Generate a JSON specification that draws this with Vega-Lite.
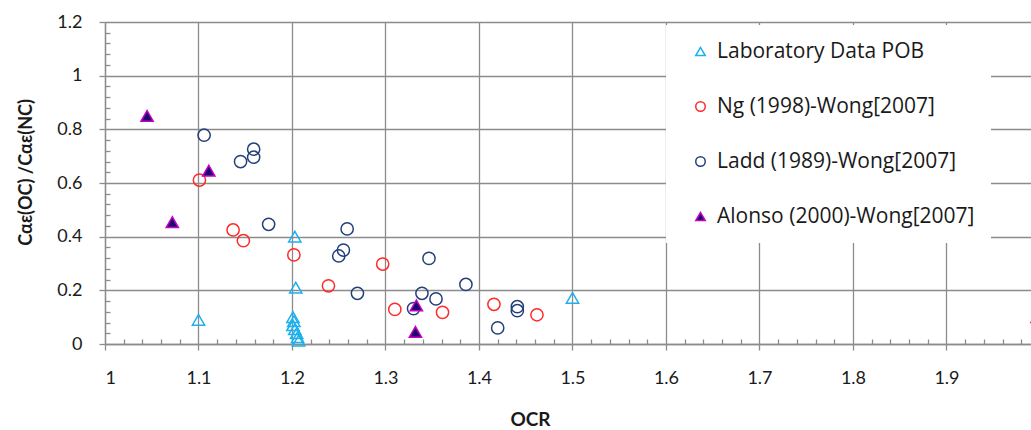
{
  "$schema": "https://vega.github.io/schema/vega-lite/v6.json",
  "width": 926,
  "height": 322,
  "autosize": {"type": "none"},
  "padding": {"left": 105, "top": 22, "right": 0, "bottom": 86},
  "background": "white",
  "config": {"view": {"stroke": null}, "font": "Lato"},
  "data": {
    "values": [
      {"series": "Laboratory Data POB", "OCR": 1.1, "ratio": 0.09},
      {"series": "Laboratory Data POB", "OCR": 1.203, "ratio": 0.4},
      {"series": "Laboratory Data POB", "OCR": 1.204, "ratio": 0.21},
      {"series": "Laboratory Data POB", "OCR": 1.201, "ratio": 0.1},
      {"series": "Laboratory Data POB", "OCR": 1.202, "ratio": 0.085},
      {"series": "Laboratory Data POB", "OCR": 1.201, "ratio": 0.07},
      {"series": "Laboratory Data POB", "OCR": 1.203, "ratio": 0.055},
      {"series": "Laboratory Data POB", "OCR": 1.205, "ratio": 0.04},
      {"series": "Laboratory Data POB", "OCR": 1.206, "ratio": 0.025},
      {"series": "Laboratory Data POB", "OCR": 1.207, "ratio": 0.012},
      {"series": "Laboratory Data POB", "OCR": 1.5, "ratio": 0.172},
      {"series": "Ng (1998)-Wong[2007]", "OCR": 1.101, "ratio": 0.611},
      {"series": "Ng (1998)-Wong[2007]", "OCR": 1.137, "ratio": 0.425},
      {"series": "Ng (1998)-Wong[2007]", "OCR": 1.148, "ratio": 0.385},
      {"series": "Ng (1998)-Wong[2007]", "OCR": 1.202, "ratio": 0.332},
      {"series": "Ng (1998)-Wong[2007]", "OCR": 1.239, "ratio": 0.217},
      {"series": "Ng (1998)-Wong[2007]", "OCR": 1.297, "ratio": 0.298},
      {"series": "Ng (1998)-Wong[2007]", "OCR": 1.31, "ratio": 0.129},
      {"series": "Ng (1998)-Wong[2007]", "OCR": 1.361, "ratio": 0.118},
      {"series": "Ng (1998)-Wong[2007]", "OCR": 1.416, "ratio": 0.148},
      {"series": "Ng (1998)-Wong[2007]", "OCR": 1.462, "ratio": 0.109},
      {"series": "Ladd (1989)-Wong[2007]", "OCR": 1.106, "ratio": 0.778},
      {"series": "Ladd (1989)-Wong[2007]", "OCR": 1.159, "ratio": 0.726},
      {"series": "Ladd (1989)-Wong[2007]", "OCR": 1.159, "ratio": 0.696},
      {"series": "Ladd (1989)-Wong[2007]", "OCR": 1.145, "ratio": 0.68},
      {"series": "Ladd (1989)-Wong[2007]", "OCR": 1.175, "ratio": 0.446},
      {"series": "Ladd (1989)-Wong[2007]", "OCR": 1.259, "ratio": 0.429},
      {"series": "Ladd (1989)-Wong[2007]", "OCR": 1.255, "ratio": 0.35},
      {"series": "Ladd (1989)-Wong[2007]", "OCR": 1.25, "ratio": 0.328},
      {"series": "Ladd (1989)-Wong[2007]", "OCR": 1.27, "ratio": 0.189},
      {"series": "Ladd (1989)-Wong[2007]", "OCR": 1.3465, "ratio": 0.319},
      {"series": "Ladd (1989)-Wong[2007]", "OCR": 1.339, "ratio": 0.189},
      {"series": "Ladd (1989)-Wong[2007]", "OCR": 1.33, "ratio": 0.132},
      {"series": "Ladd (1989)-Wong[2007]", "OCR": 1.354, "ratio": 0.168},
      {"series": "Ladd (1989)-Wong[2007]", "OCR": 1.386, "ratio": 0.222},
      {"series": "Ladd (1989)-Wong[2007]", "OCR": 1.441, "ratio": 0.139},
      {"series": "Ladd (1989)-Wong[2007]", "OCR": 1.441, "ratio": 0.124},
      {"series": "Ladd (1989)-Wong[2007]", "OCR": 1.42, "ratio": 0.06},
      {"series": "Alonso (2000)-Wong[2007]", "OCR": 1.045, "ratio": 0.85},
      {"series": "Alonso (2000)-Wong[2007]", "OCR": 1.111, "ratio": 0.646},
      {"series": "Alonso (2000)-Wong[2007]", "OCR": 1.072, "ratio": 0.454},
      {"series": "Alonso (2000)-Wong[2007]", "OCR": 1.333, "ratio": 0.144},
      {"series": "Alonso (2000)-Wong[2007]", "OCR": 1.332, "ratio": 0.045},
      {"series": "Alonso (2000)-Wong[2007]", "OCR": 1.997, "ratio": 0.1}
    ]
  },
  "layer": [
    {
      "mark": {"type": "point", "size": 150, "strokeWidth": 1.5, "opacity": 1},
      "encoding": {
        "x": {
          "field": "OCR", "type": "quantitative",
          "scale": {"domain": [1, 1.9904], "nice": false, "zero": false},
          "axis": {
            "orient": "bottom",
            "values": [1, 1.1, 1.2, 1.3, 1.4, 1.5, 1.6, 1.7, 1.8, 1.9],
            "format": "~g",
            "grid": true, "gridColor": "#8C8C8C", "gridWidth": 1.3,
            "domainColor": "#8C8C8C", "domainWidth": 1.3,
            "tickColor": "#8C8C8C", "tickWidth": 1.3, "tickSize": 6,
            "labelFontSize": 18, "labelColor": "#1a1a1a", "labelPadding": 19,
            "title": "OCR", "titleFontSize": 19, "titleFontWeight": "bold", "titleColor": "#1a1a1a",
            "titleX": 425, "titleY": 66
          }
        },
        "y": {
          "field": "ratio", "type": "quantitative",
          "scale": {"domain": [0, 1.2], "nice": false, "zero": false},
          "axis": {
            "orient": "left",
            "values": [0, 0.2, 0.4, 0.6, 0.8, 1, 1.2],
            "format": "~g",
            "grid": true, "gridColor": "#8C8C8C", "gridWidth": 1.3,
            "domainColor": "#8C8C8C", "domainWidth": 1.3,
            "tickColor": "#8C8C8C", "tickWidth": 1.3, "tickSize": 6,
            "labelFontSize": 18, "labelColor": "#1a1a1a", "labelPadding": 17,
            "title": "Cαε(OC) /Cαε(NC)", "titleFontSize": 18, "titleFontWeight": "bold", "titleColor": "#1a1a1a",
            "titleAngle": -90, "titleX": -79, "titleY": 150, "titleAlign": "center", "titleBaseline": "middle"
          }
        },
        "shape": {
          "field": "series", "type": "nominal",
          "scale": {
            "domain": ["Laboratory Data POB", "Ng (1998)-Wong[2007]", "Ladd (1989)-Wong[2007]", "Alonso (2000)-Wong[2007]"],
            "range": ["triangle-up", "circle", "circle", "triangle-up"]
          },
          "legend": {"title": null, "orient": "none", "legendX": 561, "legendY": 3, "fillColor": "white", "padding": 16, "symbolOffset": 8, "labelFont": "Open Sans", "labelFontSize": 21, "labelColor": "#1a1a1a", "symbolSize": 90, "symbolStrokeWidth": 1.5, "rowPadding": 33, "labelOffset": 6, "labelLimit": 400}
        },
        "stroke": {
          "field": "series", "type": "nominal",
          "scale": {
            "domain": ["Laboratory Data POB", "Ng (1998)-Wong[2007]", "Ladd (1989)-Wong[2007]", "Alonso (2000)-Wong[2007]"],
            "range": ["#1CB0EE", "#FF2A2A", "#24407A", "#C800C8"]
          },
          "legend": {"title": null, "orient": "none", "legendX": 561, "legendY": 3, "fillColor": "white", "padding": 16, "symbolOffset": 8, "labelFont": "Open Sans", "labelFontSize": 21, "labelColor": "#1a1a1a", "symbolSize": 90, "symbolStrokeWidth": 1.5, "rowPadding": 33, "labelOffset": 6, "labelLimit": 400}
        },
        "fill": {
          "field": "series", "type": "nominal",
          "scale": {
            "domain": ["Laboratory Data POB", "Ng (1998)-Wong[2007]", "Ladd (1989)-Wong[2007]", "Alonso (2000)-Wong[2007]"],
            "range": ["transparent", "transparent", "transparent", "#1A0A6E"]
          },
          "legend": {"title": null, "orient": "none", "legendX": 561, "legendY": 3, "fillColor": "white", "padding": 16, "symbolOffset": 8, "labelFont": "Open Sans", "labelFontSize": 21, "labelColor": "#1a1a1a", "symbolSize": 90, "symbolStrokeWidth": 1.5, "rowPadding": 33, "labelOffset": 6, "labelLimit": 400}
        }
      }
    },
    {
      "mark": {"type": "point", "opacity": 0},
      "encoding": {
        "x": {
          "field": "OCR", "type": "quantitative",
          "axis": {
            "orient": "bottom",
            "values": [1.02, 1.04, 1.06, 1.08, 1.12, 1.14, 1.16, 1.18, 1.22, 1.24, 1.26, 1.28, 1.32, 1.34, 1.36, 1.38, 1.42, 1.44, 1.46, 1.48, 1.52, 1.54, 1.56, 1.58, 1.62, 1.64, 1.66, 1.68, 1.72, 1.74, 1.76, 1.78, 1.82, 1.84, 1.86, 1.88, 1.92, 1.94, 1.96, 1.98],
            "labels": false, "grid": false, "domain": false,
            "tickSize": -5, "tickColor": "#8C8C8C", "tickWidth": 1.3, "title": null
          }
        },
        "y": {
          "field": "ratio", "type": "quantitative",
          "axis": {
            "orient": "left",
            "values": [0.04, 0.08, 0.12, 0.16, 0.24, 0.28, 0.32, 0.36, 0.44, 0.48, 0.52, 0.56, 0.64, 0.68, 0.72, 0.76, 0.84, 0.88, 0.92, 0.96, 1.04, 1.08, 1.12, 1.16],
            "labels": false, "grid": false, "domain": false,
            "tickSize": -5, "tickColor": "#8C8C8C", "tickWidth": 1.3, "title": null
          }
        }
      }
    }
  ],
  "resolve": {"axis": {"x": "independent", "y": "independent"}}
}
